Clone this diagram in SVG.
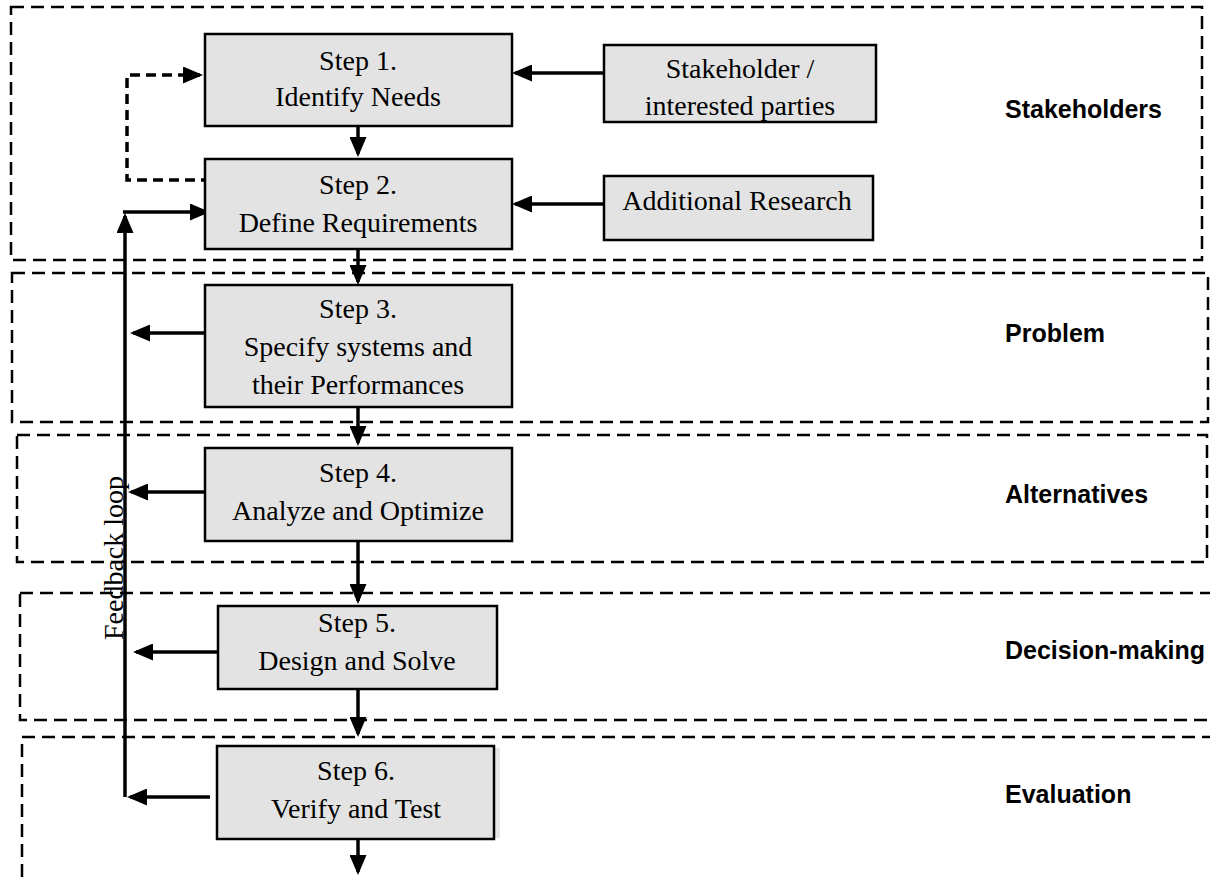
<svg xmlns="http://www.w3.org/2000/svg" width="1210" height="877" viewBox="0 0 1210 877">
<style>
.frame{fill:none;stroke:#000;stroke-width:2.5;stroke-dasharray:13 7}
.box{fill:#e3e3e3;stroke:#000;stroke-width:2.5}
.t{font-family:"Liberation Serif","Times New Roman",serif;font-size:28px;fill:#000;text-anchor:middle}
.lbl{font-family:"Liberation Sans",Arial,sans-serif;font-size:25px;font-weight:bold;fill:#000}
.c{fill:none;stroke:#000;stroke-width:3.5}
.d{fill:none;stroke:#000;stroke-width:3.5;stroke-dasharray:10 6}
</style>
<defs>
<marker id="ah" markerUnits="userSpaceOnUse" markerWidth="20" markerHeight="17" refX="17" refY="8.5" orient="auto">
<path d="M0,0 L20,8.5 L0,17 z" fill="#000"/>
</marker>
</defs>
<rect width="1210" height="877" fill="#fff"/>
<g id="frames">
<rect id="frame-stakeholders" class="frame" x="11" y="7" width="1191" height="253"/>
<rect id="frame-problem" class="frame" x="12" y="273" width="1196" height="149"/>
<rect id="frame-alternatives" class="frame" x="17" y="435" width="1190" height="127"/>
<rect id="frame-decision" class="frame" x="20" y="593" width="1200" height="127"/>
<rect id="frame-evaluation" class="frame" x="22" y="737" width="1200" height="160"/>
</g>
<g id="labels">
<text class="lbl" x="1005" y="118">Stakeholders</text>
<text class="lbl" x="1005" y="342">Problem</text>
<text class="lbl" x="1005" y="503">Alternatives</text>
<text class="lbl" x="1005" y="659">Decision-making</text>
<text class="lbl" x="1005" y="803">Evaluation</text>
</g>
<g id="connectors">
<path class="d" d="M211,180 H127 V75 H200" marker-end="url(#ah)"/>
<path class="c" d="M604,73 H515" marker-end="url(#ah)"/>
<path class="c" d="M604,204 H515" marker-end="url(#ah)"/>
<path class="c" d="M358,126 V154" marker-end="url(#ah)"/>
<path class="c" d="M358,249 V282" marker-end="url(#ah)"/>
<path class="c" d="M358,407 V443" marker-end="url(#ah)"/>
<path class="c" d="M358,541 V601" marker-end="url(#ah)"/>
<path class="c" d="M358,689 V734" marker-end="url(#ah)"/>
<path class="c" d="M358,839 V872" marker-end="url(#ah)"/>
<path class="c" d="M212,333 H133" marker-end="url(#ah)"/>
<path class="c" d="M213,492 H131" marker-end="url(#ah)"/>
<path class="c" d="M217,652 H136" marker-end="url(#ah)"/>
<path class="c" d="M210,797 H130" marker-end="url(#ah)"/>
<path class="c" d="M125,797 V216" marker-end="url(#ah)"/>
<path class="c" d="M123,212 H207" marker-end="url(#ah)"/>
<text class="t" text-anchor="start" style="text-anchor:start" transform="translate(123,640) rotate(-90)">Feedback loop</text>
</g>
<g id="step1">
<rect class="box" x="205" y="34" width="307" height="92"/>
<text class="t" x="358" y="70">Step 1.</text>
<text class="t" x="358" y="106">Identify Needs</text>
</g>
<g id="step2">
<rect class="box" x="205" y="159" width="307" height="90"/>
<text class="t" x="358" y="194">Step 2.</text>
<text class="t" x="358" y="232">Define Requirements</text>
</g>
<g id="stakeholder">
<rect class="box" x="604" y="45" width="272" height="77"/>
<text class="t" x="740" y="78">Stakeholder /</text>
<text class="t" x="740" y="115">interested parties</text>
</g>
<g id="research">
<rect class="box" x="604" y="176" width="269" height="64"/>
<text class="t" x="737" y="210">Additional Research</text>
</g>
<g id="step3">
<rect class="box" x="205" y="285" width="307" height="122"/>
<text class="t" x="358" y="318">Step 3.</text>
<text class="t" x="358" y="356">Specify systems and</text>
<text class="t" x="358" y="394">their Performances</text>
</g>
<g id="step4">
<rect class="box" x="205" y="448" width="307" height="93"/>
<text class="t" x="358" y="482">Step 4.</text>
<text class="t" x="358" y="520">Analyze and Optimize</text>
</g>
<g id="step5">
<rect class="box" x="218" y="606" width="279" height="83"/>
<text class="t" x="357" y="632">Step 5.</text>
<text class="t" x="357" y="670">Design and Solve</text>
</g>
<g id="step6">
<rect x="494" y="748" width="6" height="90" fill="#e6e6e6"/>
<rect class="box" x="217" y="746" width="277" height="93"/>
<text class="t" x="356" y="780">Step 6.</text>
<text class="t" x="356" y="818">Verify and Test</text>
</g>
</svg>
